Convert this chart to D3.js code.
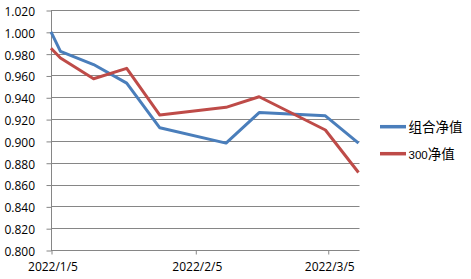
<!DOCTYPE html>
<html><head><meta charset="utf-8">
<script src="https://cdn.jsdelivr.net/npm/d3@7"></script>
<style>body{margin:0;background:#fff;}svg{display:block;}</style>
</head><body>
<svg id="c" width="471" height="279"></svg>
<script>
const dates = ["2022-01-05","2022-01-07","2022-01-14","2022-01-21","2022-01-28","2022-02-11","2022-02-18","2022-03-04","2022-03-11"];
const portfolioNav = [1.000, 0.982, 0.970, 0.953, 0.912, 0.898, 0.926, 0.923, 0.898];
const csi300Nav = [0.985, 0.976, 0.957, 0.9665, 0.9237, 0.9308, 0.9405, 0.910, 0.871];
const seriesNames = ["组合净值", "300净值"];
const xTickLabels = ["2022/1/5", "2022/2/5", "2022/3/5"];
const yTicks = [0.80,0.82,0.84,0.86,0.88,0.90,0.92,0.94,0.96,0.98,1.00,1.02];

(function () {
const colors = ["#4A7EBB", "#BE4B48"];
const parse = s => { const [yy,m,d] = s.split("-").map(Number); return new Date(yy, m-1, d, 12); };
const tickDate = s => { const [yy,m,d] = s.split("/").map(Number); return new Date(yy, m-1, d); };

const svg = d3.select("#c");
const pl = 51, pr = 358.5, pt = 10, pb = 250;
const x = d3.scaleTime().domain([parse(dates[0]), parse(dates[dates.length-1])]).range([pl, pr]).clamp(true);
const y = d3.scaleLinear().domain([0.80, 1.02]).range([pb, pt]);
const font = "'Open Sans', sans-serif";

// gridlines
svg.append("g").selectAll("line").data(yTicks.slice(1)).join("line")
  .attr("x1", pl).attr("x2", pr + 1)
  .attr("y1", d => Math.round(y(d)) + 0.5).attr("y2", d => Math.round(y(d)) + 0.5)
  .attr("stroke", "#868686").attr("stroke-width", 1);

// y axis
const yAxis = svg.append("g").attr("transform", `translate(${pl + 0.5},0)`)
  .call(d3.axisLeft(y).tickValues(yTicks).tickFormat(d3.format(".3f")).tickSize(5).tickPadding(12));
yAxis.select(".domain").attr("stroke", "#868686").attr("d", `M0,${pt}V${pb}`);
yAxis.selectAll(".tick line").attr("stroke", "#868686").attr("transform", "translate(0,0.5)");
yAxis.selectAll(".tick text").attr("font-family", font).attr("font-size", 12).attr("fill", "#000")
  .attr("dy", "0.45em").attr("x", -16.5);

// x axis
const xAxis = svg.append("g").attr("transform", `translate(0,${pb + 0.5})`)
  .call(d3.axisBottom(x).tickValues(xTickLabels.map(tickDate)).tickFormat((d,i) => xTickLabels[i]).tickSize(4).tickPadding(10));
xAxis.select(".domain").attr("stroke", "#868686").attr("d", `M${pl},0H${pr + 1}`);
xAxis.selectAll(".tick line").attr("stroke", "#868686").attr("transform", "translate(0.5,0)");
xAxis.selectAll(".tick text").attr("font-family", font).attr("font-size", 12).attr("fill", "#000")
  .attr("dx", 1.5).attr("dy", "0.55em");

// lines
const line = d3.line().x((d, i) => x(parse(dates[i]))).y(d => y(d));
[portfolioNav, csi300Nav].forEach((vals, k) => {
  svg.append("path").datum(vals).attr("d", line)
    .attr("fill", "none").attr("stroke", colors[k]).attr("stroke-width", 3)
    .attr("stroke-linejoin", "round").attr("stroke-linecap", "butt");
});

// legend
const lg = svg.append("g");
const legY = [126.7, 153.7];
seriesNames.forEach((name, k) => {
  lg.append("line").attr("x1", 380).attr("x2", 406).attr("y1", legY[k]).attr("y2", legY[k])
    .attr("stroke", colors[k]).attr("stroke-width", 3.5);
  const t = lg.append("text").attr("x", 408.5).attr("y", legY[k] + 5).attr("fill", "#000")
    .attr("font-family", "'Noto Sans CJK SC', sans-serif").attr("font-size", 13.5);
  const m = name.match(/^(\d*)(.*)$/);
  if (m[1]) t.append("tspan").attr("font-family", "'Liberation Sans', sans-serif").attr("font-size", 11.5).text(m[1]);
  t.append("tspan").text(m[2]);
});
})();
</script>
</body></html>
